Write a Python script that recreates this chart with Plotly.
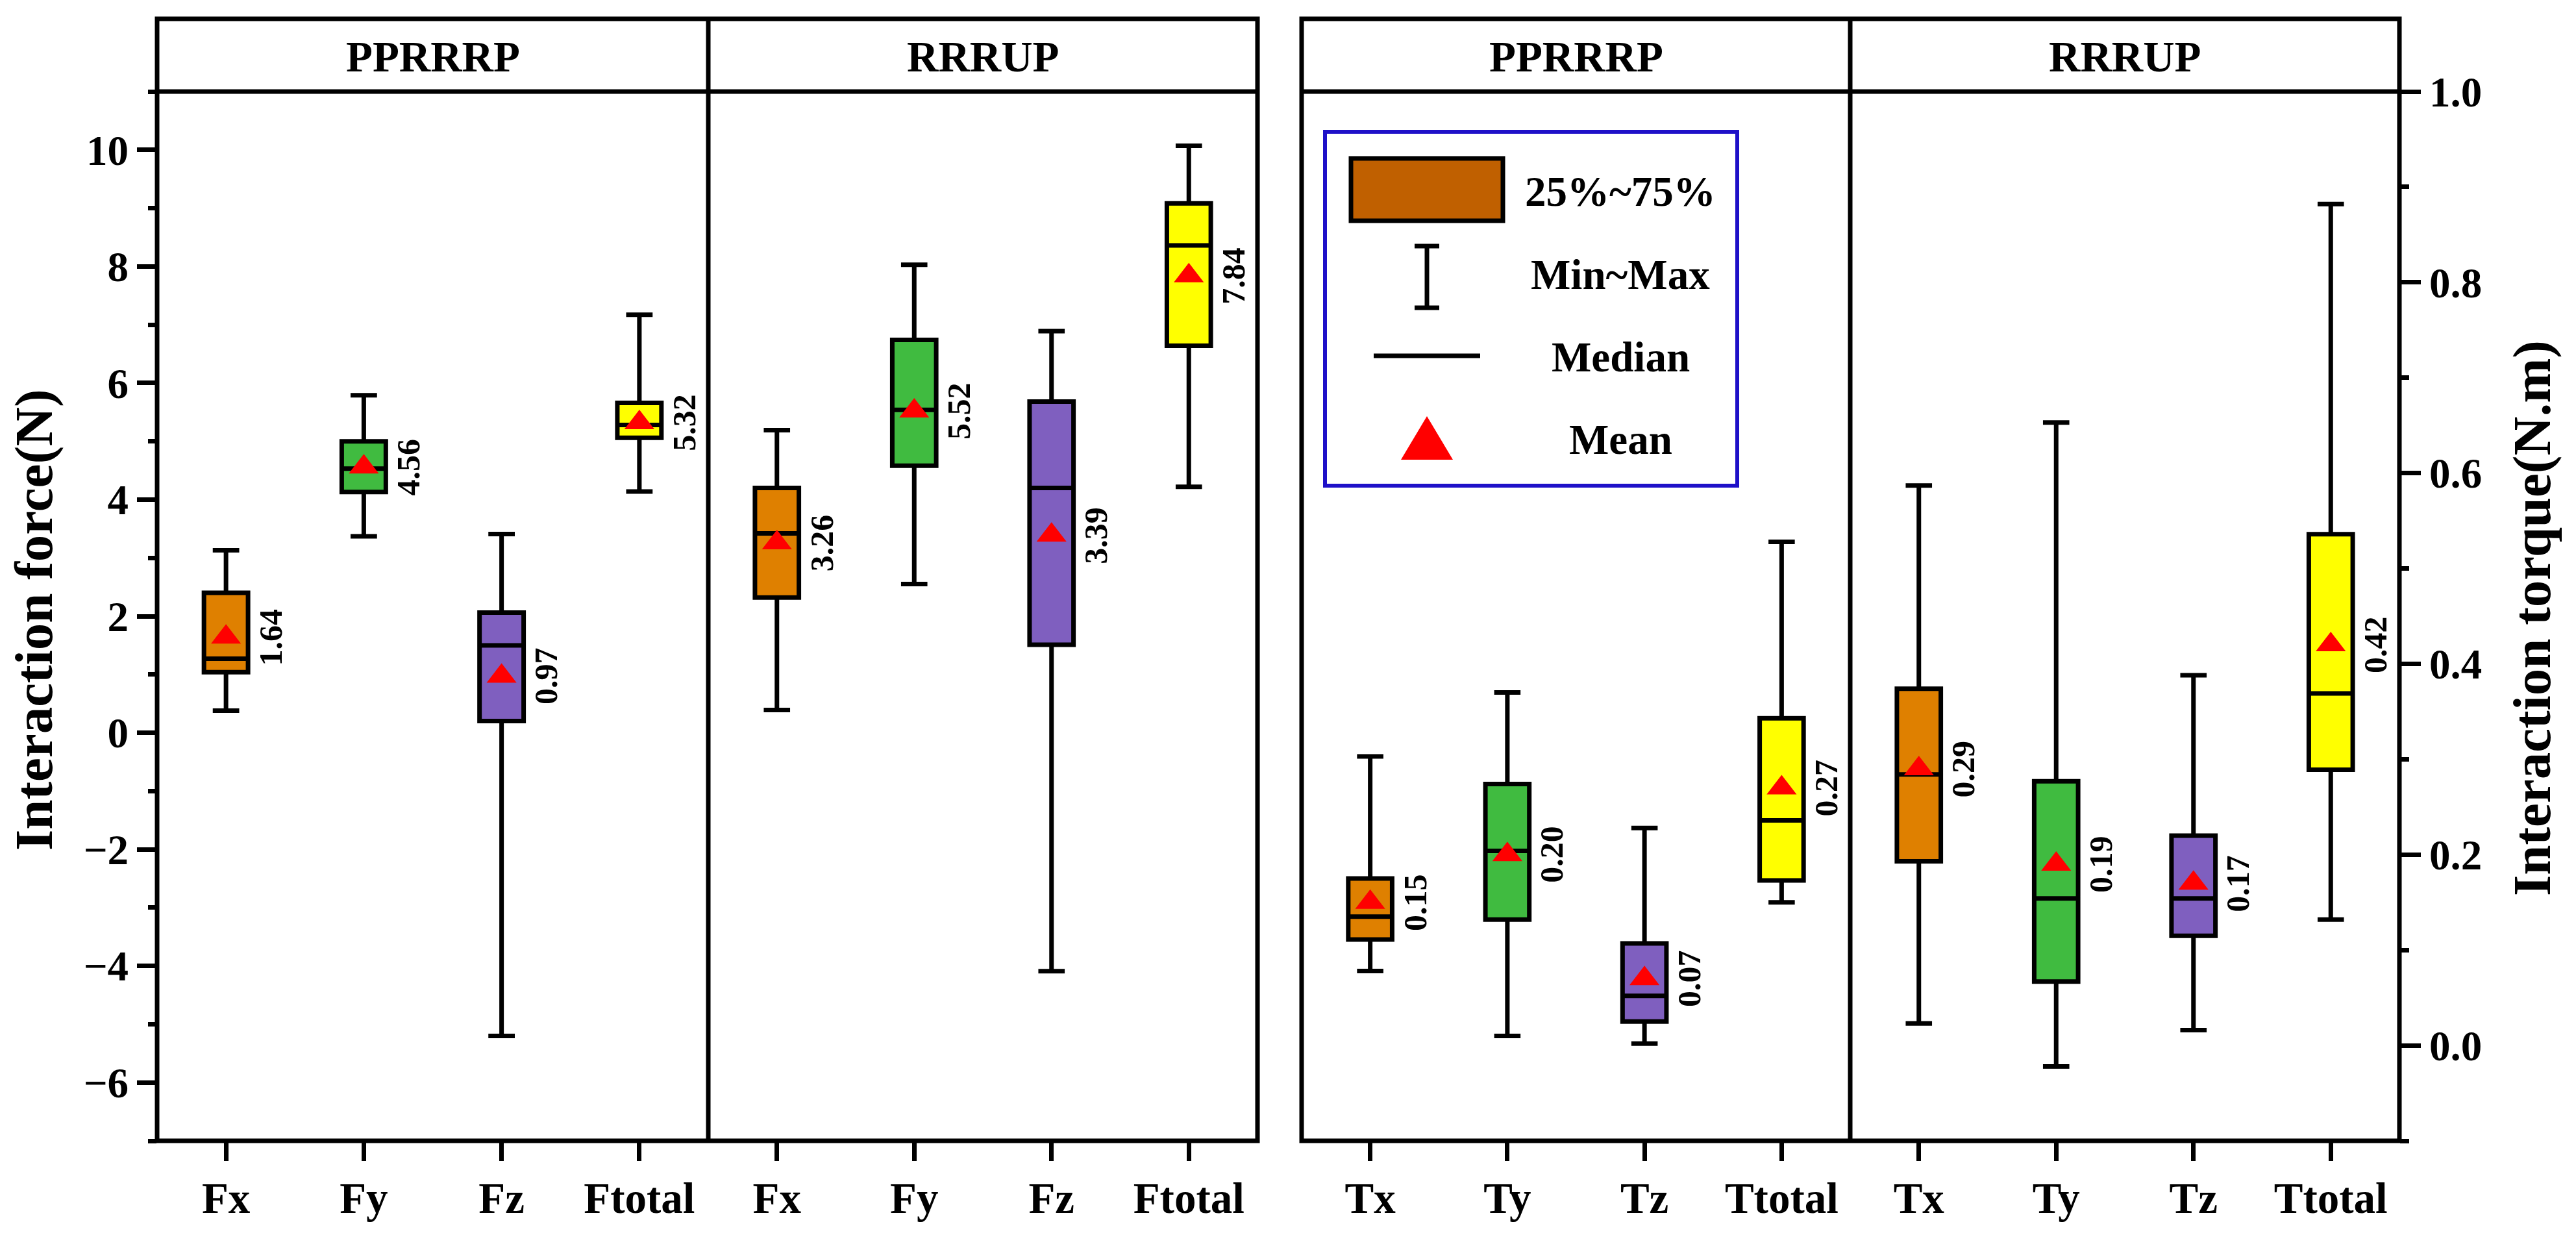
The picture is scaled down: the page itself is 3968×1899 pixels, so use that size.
import plotly.graph_objects as go

# ---------------- data ----------------
force_cats = ["Fx", "Fy", "Fz", "Ftotal"]
torque_cats = ["Tx", "Ty", "Tz", "Ttotal"]
panel_titles = ["PPRRRP", "RRRUP", "PPRRRP", "RRRUP"]
box_colors = ["#DF8000", "#40BB40", "#7F5FBF", "#FFFF00"]

# Force, PPRRRP
f_pp_min = [0.38, 3.37, -5.20, 4.14]
f_pp_q1 = [1.04, 4.13, 0.20, 5.06]
f_pp_med = [1.27, 4.53, 1.50, 5.28]
f_pp_q3 = [2.40, 5.00, 2.06, 5.66]
f_pp_max = [3.13, 5.79, 3.41, 7.17]
f_pp_mean = [1.64, 4.56, 0.97, 5.32]

# Force, RRRUP
f_rr_min = [0.39, 2.55, -4.09, 4.22]
f_rr_q1 = [2.32, 4.58, 1.51, 6.64]
f_rr_med = [3.42, 5.54, 4.20, 8.36]
f_rr_q3 = [4.20, 6.74, 5.68, 9.08]
f_rr_max = [5.19, 8.03, 6.89, 10.07]
f_rr_mean = [3.26, 5.52, 3.39, 7.84]

# Torque, PPRRRP
t_pp_min = [0.078, 0.010, 0.002, 0.150]
t_pp_q1 = [0.111, 0.132, 0.025, 0.173]
t_pp_med = [0.135, 0.204, 0.052, 0.236]
t_pp_q3 = [0.175, 0.274, 0.107, 0.343]
t_pp_max = [0.303, 0.370, 0.228, 0.528]
t_pp_mean = [0.15, 0.20, 0.07, 0.27]

# Torque, RRRUP
t_rr_min = [0.023, -0.022, 0.016, 0.132]
t_rr_q1 = [0.193, 0.067, 0.115, 0.289]
t_rr_med = [0.284, 0.154, 0.154, 0.369]
t_rr_q3 = [0.374, 0.277, 0.220, 0.536]
t_rr_max = [0.587, 0.653, 0.388, 0.882]
t_rr_mean = [0.29, 0.19, 0.17, 0.42]

legend_labels = ["25%~75%", "Min~Max", "Median", "Mean"]

# ---------------- geometry (pixels) ----------------
W, H = 3968, 1899
L, R, T, B = 242, 272, 141, 142
PW, PH = W - L - R, H - T - B
FONT = "Liberation Serif"
LW = 7


def px(xp):
    return (xp - L) / PW


def py(yp):
    return (H - B - yp) / PH


panels = [
    dict(xa="x", ya="y", cats=force_cats, dom=[px(242), px(1091)],
         data=(f_pp_min, f_pp_q1, f_pp_med, f_pp_q3, f_pp_max, f_pp_mean), fmt="{:.2f}"),
    dict(xa="x2", ya="y", cats=force_cats, dom=[px(1091), px(1937)],
         data=(f_rr_min, f_rr_q1, f_rr_med, f_rr_q3, f_rr_max, f_rr_mean), fmt="{:.2f}"),
    dict(xa="x3", ya="y2", cats=torque_cats, dom=[px(2005), px(2850)],
         data=(t_pp_min, t_pp_q1, t_pp_med, t_pp_q3, t_pp_max, t_pp_mean), fmt="{:.2f}"),
    dict(xa="x4", ya="y2", cats=torque_cats, dom=[px(2850), px(3696)],
         data=(t_rr_min, t_rr_q1, t_rr_med, t_rr_q3, t_rr_max, t_rr_mean), fmt="{:.2f}"),
]

fig = go.Figure()
annotations = []

for k, p in enumerate(panels):
    mn, q1, med, q3, mx, mean = p["data"]
    for i, c in enumerate(p["cats"]):
        fig.add_trace(go.Box(
            x=[c], q1=[q1[i]], median=[med[i]], q3=[q3[i]],
            lowerfence=[mn[i]], upperfence=[mx[i]],
            fillcolor=box_colors[i], line=dict(color="black", width=LW),
            whiskerwidth=0.6, width=0.32, boxpoints=False,
            xaxis=p["xa"], yaxis=p["ya"], showlegend=False, hoverinfo="skip"))
    fig.add_trace(go.Scatter(
        x=p["cats"], y=mean, mode="markers",
        marker=dict(symbol="triangle-up", size=40, color="#FF0000", line=dict(width=0)),
        xaxis=p["xa"], yaxis=p["ya"], showlegend=False, hoverinfo="skip"))
    for i, m in enumerate(mean):
        annotations.append(dict(
            x=i + 0.325, y=m, xref=p["xa"], yref=p["ya"], text=p["fmt"].format(m),
            textangle=-90, showarrow=False, xanchor="center", yanchor="middle",
            font=dict(family=FONT, size=50, color="black", weight="bold")))
    # strip title
    annotations.append(dict(
        x=(p["dom"][0] + p["dom"][1]) / 2, y=py(87), xref="paper", yref="paper",
        text=panel_titles[k], showarrow=False,
        xanchor="center", yanchor="middle",
        font=dict(family=FONT, size=67, color="black", weight="bold")))

# axis titles
annotations.append(dict(x=px(52), y=py(955), xref="paper", yref="paper",
                        text="Interaction force(N)", textangle=-90, showarrow=False,
                        xanchor="center", yanchor="middle",
                        font=dict(family=FONT, size=83, color="black", weight="bold")))
annotations.append(dict(x=px(3900), y=py(952), xref="paper", yref="paper",
                        text="Interaction torque(N.m)", textangle=-90, showarrow=False,
                        xanchor="center", yanchor="middle",
                        font=dict(family=FONT, size=83, color="black", weight="bold")))

# legend texts
for lab, yp in zip(legend_labels, [295, 423, 550, 677]):
    annotations.append(dict(x=px(2496), y=py(yp), xref="paper", yref="paper", text=lab,
                            showarrow=False, xanchor="center", yanchor="middle",
                            font=dict(family=FONT, size=65, color="black", weight="bold")))

shapes = []
line = dict(color="black", width=LW)
# force group frame
shapes.append(dict(type="rect", xref="paper", yref="paper", x0=px(242), x1=px(1937),
                   y0=0, y1=py(29), line=line, layer="above"))
shapes.append(dict(type="line", xref="paper", yref="paper", x0=px(1091), x1=px(1091),
                   y0=0, y1=py(29), line=line))
shapes.append(dict(type="line", xref="paper", yref="paper", x0=px(242), x1=px(1937),
                   y0=1, y1=1, line=line))
# torque group frame
shapes.append(dict(type="rect", xref="paper", yref="paper", x0=px(2005), x1=px(3696),
                   y0=0, y1=py(29), line=line, layer="above"))
shapes.append(dict(type="line", xref="paper", yref="paper", x0=px(2850), x1=px(2850),
                   y0=0, y1=py(29), line=line))
shapes.append(dict(type="line", xref="paper", yref="paper", x0=px(2005), x1=px(3696),
                   y0=1, y1=1, line=line))
# legend
shapes.append(dict(type="rect", xref="paper", yref="paper", x0=px(2041), x1=px(2676),
                   y0=py(748), y1=py(203), line=dict(color="#1E10C8", width=6),
                   fillcolor="white"))
shapes.append(dict(type="rect", xref="paper", yref="paper", x0=px(2081), x1=px(2315),
                   y0=py(340), y1=py(244), line=line, fillcolor="#C06000"))
shapes.append(dict(type="line", xref="paper", yref="paper", x0=px(2198), x1=px(2198),
                   y0=py(474), y1=py(379), line=line))
shapes.append(dict(type="line", xref="paper", yref="paper", x0=px(2179), x1=px(2217),
                   y0=py(379), y1=py(379), line=line))
shapes.append(dict(type="line", xref="paper", yref="paper", x0=px(2179), x1=px(2217),
                   y0=py(474), y1=py(474), line=line))
shapes.append(dict(type="line", xref="paper", yref="paper", x0=px(2116), x1=px(2280),
                   y0=py(548), y1=py(548), line=line))
shapes.append(dict(type="path", xref="paper", yref="paper",
                   path=f"M {px(2198)},{py(641)} L {px(2238)},{py(708)} L {px(2158)},{py(708)} Z",
                   fillcolor="#FF0000", line=dict(width=0)))

xaxis_common = dict(type="category", range=[-0.5, 3.5], showgrid=False, zeroline=False,
                    showline=False, ticks="outside", ticklen=30, tickwidth=LW,
                    tickcolor="black",
                    tickfont=dict(family=FONT, size=67, color="black", weight="bold"))
layout_axes = {}
for k, p in enumerate(panels):
    name = "xaxis" if k == 0 else f"xaxis{k + 1}"
    layout_axes[name] = dict(xaxis_common, domain=p["dom"], anchor=p["ya"],
                             categoryorder="array", categoryarray=p["cats"])

fig.update_layout(
    width=W, height=H,
    margin=dict(l=L, r=R, t=T, b=B, pad=0),
    paper_bgcolor="white", plot_bgcolor="white",
    font=dict(family=FONT, color="black", weight="bold"),
    boxmode="overlay",
    showlegend=False,
    yaxis=dict(domain=[0, 1], anchor="x", range=[-7, 11], tick0=0, dtick=2,
               showgrid=False, zeroline=False, showline=False,
               ticks="outside", ticklen=30, tickwidth=LW, tickcolor="black",
               minor=dict(ticks="outside", ticklen=13, tickwidth=LW, dtick=1,
                          tickcolor="black", showgrid=False),
               tickfont=dict(family=FONT, size=65, color="black", weight="bold")),
    yaxis2=dict(domain=[0, 1], anchor="x4", side="right", range=[-0.1, 1.0],
                tick0=0, dtick=0.2, tickformat=".1f",
                showgrid=False, zeroline=False, showline=False,
                ticks="outside", ticklen=32, tickwidth=LW, tickcolor="black",
                minor=dict(ticks="outside", ticklen=14, tickwidth=LW, dtick=0.1,
                           tickcolor="black", showgrid=False),
                tickfont=dict(family=FONT, size=65, color="black", weight="bold")),
    annotations=annotations,
    shapes=shapes,
    **layout_axes,
)

fig.write_html("out.html", config={"displayModeBar": False},
               post_script="document.body.style.margin='0';")
